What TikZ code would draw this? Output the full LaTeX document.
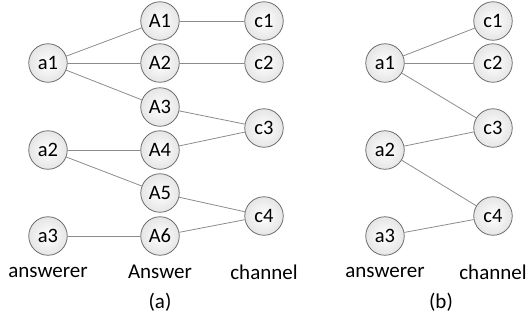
\documentclass[tikz,border=0pt]{standalone}
\usepackage{fontspec}
\setmainfont{Carlito}
\begin{document}
\begin{tikzpicture}[x=1pt,y=-1pt,
  vert/.style={circle,draw=gray!80!black,line width=0.75pt,minimum size=38.5pt,inner sep=0pt,
    inner color=white,outer color=gray!20,font=\fontsize{20.5}{24}\selectfont},
  link/.style={draw=gray!90,line width=0.8pt},
  lbl/.style={font=\fontsize{21}{24}\selectfont,inner sep=0pt}]
\useasboundingbox (0,0) rectangle (527,322);
% panel (a): answerers, answers, channels
\node[vert] (a1) at (48,63) {a1};
\node[vert] (a2) at (48,150) {a2};
\node[vert] (a3) at (48,236) {a3};
\node[vert] (A1) at (160,21) {A1};
\node[vert] (A2) at (160,63) {A2};
\node[vert] (A3) at (160,107) {A3};
\node[vert] (A4) at (160,150) {A4};
\node[vert] (A5) at (160,193) {A5};
\node[vert] (A6) at (160,236) {A6};
\node[vert] (c1) at (264,21) {c1};
\node[vert] (c2) at (264,63) {c2};
\node[vert] (c3) at (264,128) {c3};
\node[vert] (c4) at (264,216) {c4};
\draw[link] (a1) -- (A1);
\draw[link] (a1) -- (A2);
\draw[link] (a1) -- (A3);
\draw[link] (a2) -- (A4);
\draw[link] (a2) -- (A5);
\draw[link] (a3) -- (A6);
\draw[link] (A1) -- (c1);
\draw[link] (A2) -- (c2);
\draw[link] (A3) -- (c3);
\draw[link] (A4) -- (c3);
\draw[link] (A5) -- (c4);
\draw[link] (A6) -- (c4);
\node[lbl] (la1) at (48,272) {answerer};
\node[lbl] (la2) at (160,272) {Answer};
\node[lbl] (la3) at (264,272) {channel};
\node[lbl] (capa) at (160,302) {(a)};
% panel (b): answerers linked straight to channels
\node[vert] (b1) at (385,63) {a1};
\node[vert] (b2) at (385,150) {a2};
\node[vert] (b3) at (385,236) {a3};
\node[vert] (d1) at (493,21) {c1};
\node[vert] (d2) at (493,63) {c2};
\node[vert] (d3) at (493,128) {c3};
\node[vert] (d4) at (493,216) {c4};
\draw[link] (b1) -- (d1);
\draw[link] (b1) -- (d2);
\draw[link] (b1) -- (d3);
\draw[link] (b2) -- (d3);
\draw[link] (b2) -- (d4);
\draw[link] (b3) -- (d4);
\node[lbl] (lb1) at (385,272) {answerer};
\node[lbl] (lb2) at (493,272) {channel};
\node[lbl] (capb) at (441,302) {(b)};
\end{tikzpicture}
\end{document}
